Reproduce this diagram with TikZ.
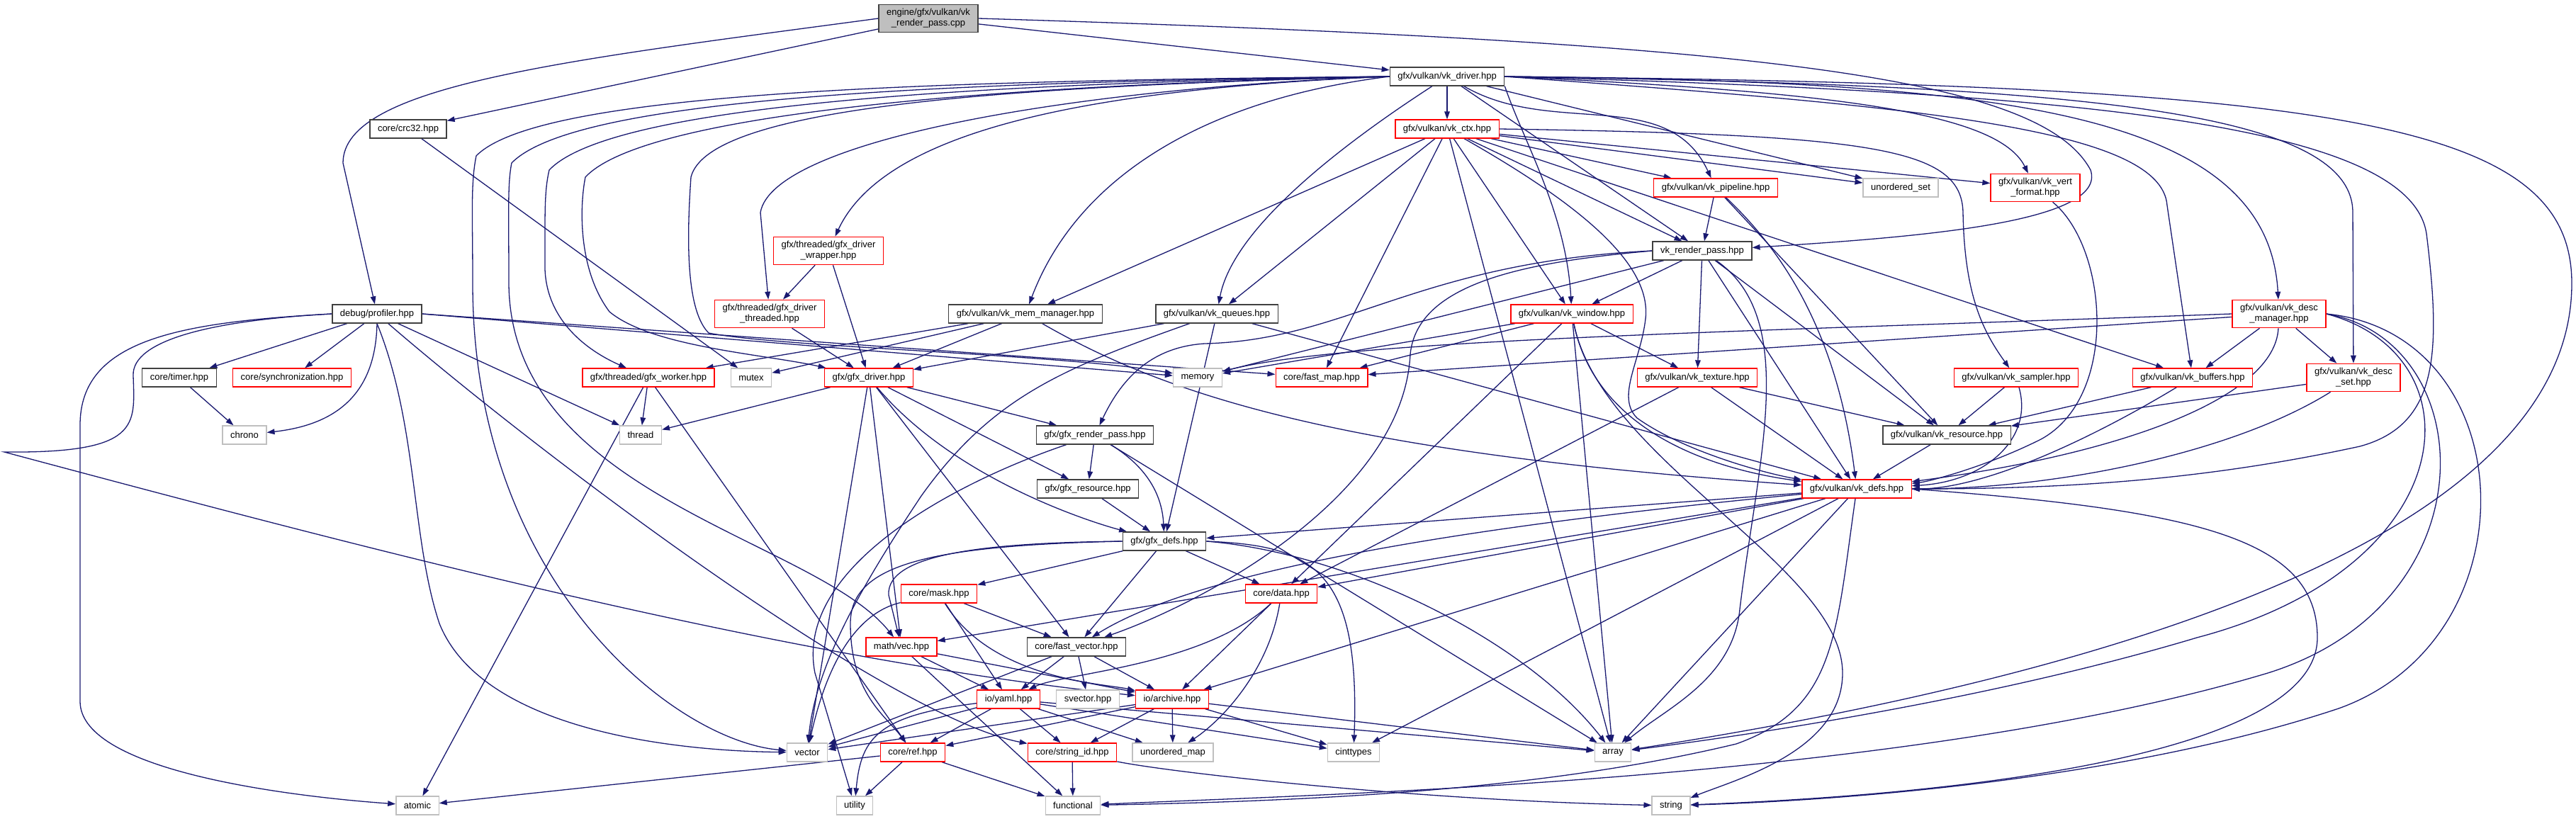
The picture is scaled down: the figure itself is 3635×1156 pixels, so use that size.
\documentclass[tikz,border=0pt]{standalone}
\usepackage{fontspec}
\setmainfont{Liberation Sans}
\usetikzlibrary{arrows.meta,backgrounds}
\definecolor{edgeblue}{HTML}{191970}
\definecolor{hdrline}{HTML}{404040}
\definecolor{sysline}{HTML}{BFBFBF}
\definecolor{trline}{HTML}{FF0000}

\begin{document}
\begin{tikzpicture}[x=0.5pt,y=-0.5pt,
  font=\fontsize{6.5}{7.6}\selectfont,
  hdr/.style={draw=hdrline,fill=white,line width=0.65pt,align=center,inner xsep=5.5pt,inner ysep=3pt,minimum height=13pt},
  trunc/.style={hdr,draw=trline},
  sys/.style={hdr,draw=sysline},
  rootbox/.style={hdr,fill=sysline},
  inc/.style={draw=edgeblue,line width=0.65pt,-{Triangle[length=5.5pt,width=3.8pt]}}]
\useasboundingbox (0,0) rectangle (3635,1156);

\node[rootbox] (root) at (1310,26) {engine/gfx/vulkan/vk\\\_render\_pass.cpp};
\node[hdr] (drv) at (2042,108) {gfx/vulkan/vk\_driver.hpp};
\node[hdr] (crc) at (576,182) {core/crc32.hpp};
\node[trunc] (ctx) at (2042,182) {gfx/vulkan/vk\_ctx.hpp};
\node[trunc] (pipe) at (2421,265) {gfx/vulkan/vk\_pipeline.hpp};
\node[sys] (uset) at (2682,265) {unordered\_set};
\node[trunc] (vert) at (2872,265) {gfx/vulkan/vk\_vert\\\_format.hpp};
\node[trunc] (wrap) at (1169,354) {gfx/threaded/gfx\_driver\\\_wrapper.hpp};
\node[hdr] (rp) at (2402,354) {vk\_render\_pass.hpp};
\node[hdr] (prof) at (532,443) {debug/profiler.hpp};
\node[trunc] (thr) at (1086,443) {gfx/threaded/gfx\_driver\\\_threaded.hpp};
\node[hdr] (mmgr) at (1447,443) {gfx/vulkan/vk\_mem\_manager.hpp};
\node[hdr] (que) at (1717,443) {gfx/vulkan/vk\_queues.hpp};
\node[trunc] (win) at (2218,443) {gfx/vulkan/vk\_window.hpp};
\node[trunc] (dman) at (3216,443) {gfx/vulkan/vk\_desc\\\_manager.hpp};
\node[hdr] (timer) at (253,533) {core/timer.hpp};
\node[trunc] (sync) at (412,533) {core/synchronization.hpp};
\node[trunc] (work) at (915,533) {gfx/threaded/gfx\_worker.hpp};
\node[sys] (mutex) at (1060,533) {mutex};
\node[trunc] (gdrv) at (1226,533) {gfx/gfx\_driver.hpp};
\node[sys] (mem) at (1690,533) {memory};
\node[trunc] (fmap) at (1865,533) {core/fast\_map.hpp};
\node[trunc] (tex) at (2395,533) {gfx/vulkan/vk\_texture.hpp};
\node[trunc] (samp) at (2845,533) {gfx/vulkan/vk\_sampler.hpp};
\node[trunc] (buf) at (3094,533) {gfx/vulkan/vk\_buffers.hpp};
\node[trunc] (dset) at (3321,533) {gfx/vulkan/vk\_desc\\\_set.hpp};
\node[sys] (chrono) at (345,614) {chrono};
\node[sys] (thread) at (904,614) {thread};
\node[hdr] (grp) at (1545,614) {gfx/gfx\_render\_pass.hpp};
\node[hdr] (vres) at (2747,614) {gfx/vulkan/vk\_resource.hpp};
\node[hdr] (gres) at (1535,690) {gfx/gfx\_resource.hpp};
\node[trunc] (defs) at (2620,690) {gfx/vulkan/vk\_defs.hpp};
\node[hdr] (gdefs) at (1643,764) {gfx/gfx\_defs.hpp};
\node[trunc] (mask) at (1325,838) {core/mask.hpp};
\node[trunc] (data) at (1808,838) {core/data.hpp};
\node[trunc] (vec) at (1272,913) {math/vec.hpp};
\node[hdr] (fvec) at (1519,913) {core/fast\_vector.hpp};
\node[trunc] (yaml) at (1423,987) {io/yaml.hpp};
\node[sys] (svec) at (1535,987) {svector.hpp};
\node[trunc] (arch) at (1654,987) {io/archive.hpp};
\node[sys] (vector) at (1139,1062) {vector};
\node[trunc] (ref) at (1288,1062) {core/ref.hpp};
\node[trunc] (sid) at (1513,1062) {core/string\_id.hpp};
\node[sys] (umap) at (1655,1062) {unordered\_map};
\node[sys] (cint) at (1910,1062) {cinttypes};
\node[sys] (array) at (2276,1062) {array};
\node[sys] (atomic) at (589,1137) {atomic};
\node[sys] (util) at (1206,1137) {utility};
\node[sys] (func) at (1514,1137) {functional};
\node[sys] (string) at (2358,1137) {string};

\begin{scope}[on background layer]
\draw[inc] (root) -- (drv);
\draw[inc] (root) -- (crc);
\draw[inc] (root.west) .. controls (800,85) and (484,120) .. (484,230) -- (prof);
\draw[inc] (root.east) .. controls (2500,60) and (2880,110) .. (2950,240) .. controls (2975,315) and (2700,335) .. (rp);
\draw[inc] (crc) -- (mutex);

\draw[inc] (prof) -- (timer);
\draw[inc] (prof) -- (sync);
\draw[inc] (prof.south) .. controls (530,560) and (470,600) .. (chrono);
\draw[inc] (timer) -- (chrono);
\draw[inc] (prof) -- (thread);
\draw[inc] (prof.east) -- (mem);
\draw[inc] (prof.east) -- (fmap);
\draw[inc] (prof.west) .. controls (250,455) and (113,480) .. (113,600) -- (113,990) .. controls (113,1090) and (420,1125) .. (atomic);
\draw[inc] (prof.west) .. controls (300,452) and (186,480) .. (188,530) .. controls (190,600) and (200,640) .. (6,638) .. controls (500,770) and (1100,930) .. (arch);
\draw[inc] (prof.south) .. controls (590,600) and (580,760) .. (620,880) .. controls (680,1030) and (950,1060) .. (vector);
\draw[inc] (prof) .. controls (760,640) and (1250,1010) .. (sid);

\draw[inc] (drv) -- (ctx);
\draw[inc] (drv) to[out=-30,in=115] (pipe);
\draw[inc] (drv) -- (rp);
\draw[inc] (drv) -- (uset);
\draw[inc] (drv.east) .. controls (2600,130) and (2820,160) .. (vert);
\draw[inc] (drv.south east) .. controls (2150,200) and (2210,300) .. (win);
\draw[inc] (drv.east) .. controls (2800,115) and (3200,150) .. (dman);
\draw[inc] (drv.east) .. controls (2700,150) and (3050,180) .. (3058,290) -- (buf);
\draw[inc] (drv.east) .. controls (2900,120) and (3320,150) .. (3320,300) -- (dset);
\draw[inc] (drv.east) .. controls (2900,130) and (3400,170) .. (3424,330) .. controls (3445,500) and (3440,600) .. (3330,630) .. controls (3100,680) and (2900,690) .. (defs);
\draw[inc] (drv.east) .. controls (3300,120) and (3629,170) .. (3629,400) .. controls (3629,750) and (3000,950) .. (array);
\draw[inc] (drv.west) .. controls (1300,114) and (760,130) .. (672,220) .. controls (664,260) and (667,300) .. (667,400) .. controls (667,820) and (950,1045) .. (vector);
\draw[inc] (drv.west) .. controls (1300,116) and (810,140) .. (722,230) .. controls (716,260) and (718,300) .. (718,400) .. controls (720,700) and (1150,760) .. (vec);
\draw[inc] (drv.west) .. controls (1350,118) and (860,150) .. (775,240) .. controls (768,270) and (769,300) .. (769,380) .. controls (772,460) and (840,500) .. (work);
\draw[inc] (drv.west) .. controls (1400,120) and (910,160) .. (826,250) .. controls (818,290) and (815,380) .. (860,440) .. controls (920,490) and (1080,500) .. (gdrv);
\draw[inc] (drv.west) .. controls (1420,122) and (1000,150) .. (975,250) .. controls (968,350) and (970,440) .. (1000,470) .. controls (1100,490) and (1500,500) .. (mem);
\draw[inc] (drv.west) .. controls (1500,125) and (1090,200) .. (1073,300) -- (thr);
\draw[inc] (drv.west) .. controls (1550,125) and (1250,180) .. (wrap);
\draw[inc] (drv.west) .. controls (1700,140) and (1520,250) .. (mmgr);
\draw[inc] (drv) .. controls (1900,200) and (1740,320) .. (que);

\draw[inc] (ctx) -- (pipe);
\draw[inc] (ctx) -- (rp);
\draw[inc] (ctx) -- (uset);
\draw[inc] (ctx) -- (vert);
\draw[inc] (ctx) -- (win);
\draw[inc] (ctx) -- (fmap);
\draw[inc] (ctx) -- (mmgr);
\draw[inc] (ctx) -- (que);
\draw[inc] (ctx) -- (array);
\draw[inc] (ctx) -- (buf);
\draw[inc] (ctx.east) .. controls (2650,190) and (2768,210) .. (2770,300) .. controls (2772,420) and (2800,470) .. (samp);
\draw[inc] (ctx) .. controls (2250,300) and (2330,380) .. (2322,450) .. controls (2315,510) and (2280,560) .. (2310,590) .. controls (2380,640) and (2500,670) .. (defs);

\draw[inc] (wrap) -- (thr);
\draw[inc] (wrap) -- (gdrv);
\draw[inc] (thr) -- (gdrv);
\draw[inc] (work) -- (thread);
\draw[inc] (work) -- (atomic);
\draw[inc] (work) -- (ref);
\draw[inc] (mmgr) -- (mutex);
\draw[inc] (mmgr) -- (work);
\draw[inc] (mmgr) -- (gdrv);
\draw[inc] (mmgr) .. controls (1650,560) and (1900,640) .. (defs);
\draw[inc] (que) -- (gdrv);
\draw[inc] (que) -- (gdefs);
\draw[inc] (que) -- (defs);
\draw[inc] (que) .. controls (1500,520) and (1400,560) .. (1300,700) .. controls (1200,850) and (1150,950) .. (vector);

\draw[inc] (gdrv) -- (thread);
\draw[inc] (gdrv) -- (grp);
\draw[inc] (gdrv) -- (gres);
\draw[inc] (gdrv) .. controls (1350,680) and (1550,740) .. (gdefs);
\draw[inc] (gdrv) -- (fvec);
\draw[inc] (gdrv) -- (vec);
\draw[inc] (gdrv) -- (vector);
\draw[inc] (grp) -- (gres);
\draw[inc] (grp) .. controls (1620,660) and (1640,700) .. (gdefs);
\draw[inc] (grp) .. controls (1350,680) and (1120,800) .. (1150,950) -- (util);
\draw[inc] (grp) -- (array);
\draw[inc] (gres) -- (gdefs);

\draw[inc] (gdefs) -- (mask);
\draw[inc] (gdefs) -- (data);
\draw[inc] (gdefs) -- (fvec);
\draw[inc] (gdefs.west) .. controls (1400,766) and (1250,780) .. (1254,840) -- (vec);
\draw[inc] (gdefs.west) .. controls (1300,770) and (1200,800) .. (1200,880) .. controls (1200,980) and (1250,1010) .. (ref);
\draw[inc] (gdefs.east) .. controls (1850,770) and (1920,800) .. (cint);
\draw[inc] (gdefs.east) .. controls (1900,780) and (2150,900) .. (array);
\draw[inc] (mask) -- (fvec);
\draw[inc] (mask) -- (yaml);
\draw[inc] (mask) .. controls (1400,960) and (1560,965) .. (arch);
\draw[inc] (mask) .. controls (1230,860) and (1175,900) .. (vector);
\draw[inc] (vec) -- (yaml);
\draw[inc] (vec) -- (arch);
\draw[inc] (vec) -- (func);
\draw[inc] (fvec) -- (yaml);
\draw[inc] (fvec) -- (svec);
\draw[inc] (fvec) -- (arch);
\draw[inc] (fvec) -- (vector);
\draw[inc] (data) .. controls (1700,940) and (1500,950) .. (yaml);
\draw[inc] (data) -- (arch);
\draw[inc] (data) .. controls (1790,950) and (1720,1020) .. (umap);
\draw[inc] (yaml) -- (vector);
\draw[inc] (yaml) -- (ref);
\draw[inc] (yaml) -- (sid);
\draw[inc] (yaml) -- (umap);
\draw[inc] (yaml) .. controls (1240,1010) and (1215,1040) .. (util);
\draw[inc] (yaml) -- (array);
\draw[inc] (yaml) -- (cint);
\draw[inc] (arch) -- (vector);
\draw[inc] (arch) -- (ref);
\draw[inc] (arch) -- (sid);
\draw[inc] (arch) -- (umap);
\draw[inc] (arch) -- (array);
\draw[inc] (arch) -- (cint);
\draw[inc] (ref) -- (atomic);
\draw[inc] (ref) -- (util);
\draw[inc] (ref) -- (func);
\draw[inc] (sid) -- (func);
\draw[inc] (sid) .. controls (1650,1090) and (2000,1130) .. (string);

\draw[inc] (pipe) -- (rp);
\draw[inc] (pipe) .. controls (2500,340) and (2590,450) .. (defs);
\draw[inc] (pipe) -- (vres);
\draw[inc] (rp.west) .. controls (2000,370) and (1900,480) .. (1700,485) .. controls (1620,490) and (1580,540) .. (grp);
\draw[inc] (rp) -- (mem);
\draw[inc] (rp.west) .. controls (2150,370) and (2000,400) .. (1990,500) .. controls (1980,700) and (1700,850) .. (fvec);
\draw[inc] (rp) -- (win);
\draw[inc] (rp) -- (tex);
\draw[inc] (rp) .. controls (2540,450) and (2480,650) .. (2455,860) .. controls (2445,960) and (2350,1000) .. (array);
\draw[inc] (rp) -- (defs);
\draw[inc] (rp) -- (vres);
\draw[inc] (win) -- (mem);
\draw[inc] (win) -- (fmap);
\draw[inc] (win) -- (tex);
\draw[inc] (win) .. controls (2250,600) and (2400,660) .. (defs);
\draw[inc] (win) -- (array);
\draw[inc] (win) .. controls (2260,650) and (2600,800) .. (2600,950) .. controls (2600,1060) and (2450,1100) .. (string);
\draw[inc] (win) -- (data);
\draw[inc] (tex) -- (defs);
\draw[inc] (tex) -- (vres);
\draw[inc] (tex) -- (data);
\draw[inc] (vres) -- (defs);
\draw[inc] (samp) -- (vres);
\draw[inc] (samp) .. controls (2870,620) and (2800,680) .. (defs);
\draw[inc] (buf) -- (vres);
\draw[inc] (buf) .. controls (2950,620) and (2800,690) .. (defs);
\draw[inc] (dset) -- (vres);
\draw[inc] (dset) .. controls (3150,640) and (2900,690) .. (defs);
\draw[inc] (vert) .. controls (2975,350) and (2990,560) .. (2880,620) .. controls (2800,660) and (2720,680) .. (defs);

\draw[inc] (dman.west) .. controls (2400,470) and (1900,480) .. (mem);
\draw[inc] (dman) -- (fmap);
\draw[inc] (dman) -- (buf);
\draw[inc] (dman) -- (dset);
\draw[inc] (dman) .. controls (3210,560) and (3000,640) .. (defs);
\draw[inc] (dman.east) .. controls (3500,500) and (3480,800) .. (3100,900) .. controls (2800,990) and (2450,1040) .. (array);
\draw[inc] (dman.east) .. controls (3500,480) and (3520,850) .. (3200,950) .. controls (2700,1100) and (1900,1120) .. (func);
\draw[inc] (dman.east) .. controls (3560,470) and (3580,900) .. (3300,1000) .. controls (3000,1100) and (2600,1130) .. (string);

\draw[inc] (defs) -- (gdefs);
\draw[inc] (defs) .. controls (2100,740) and (1700,800) .. (fvec);
\draw[inc] (defs) -- (data);
\draw[inc] (defs) -- (vec);
\draw[inc] (defs) -- (cint);
\draw[inc] (defs) -- (array);
\draw[inc] (defs) -- (arch);
\draw[inc] (defs.east) .. controls (3100,720) and (3270,760) .. (3270,900) .. controls (3270,1060) and (2800,1120) .. (string);
\draw[inc] (defs) .. controls (2590,900) and (2590,1000) .. (2450,1050) .. controls (2200,1110) and (1900,1130) .. (func);
\end{scope}
\end{tikzpicture}
\end{document}
